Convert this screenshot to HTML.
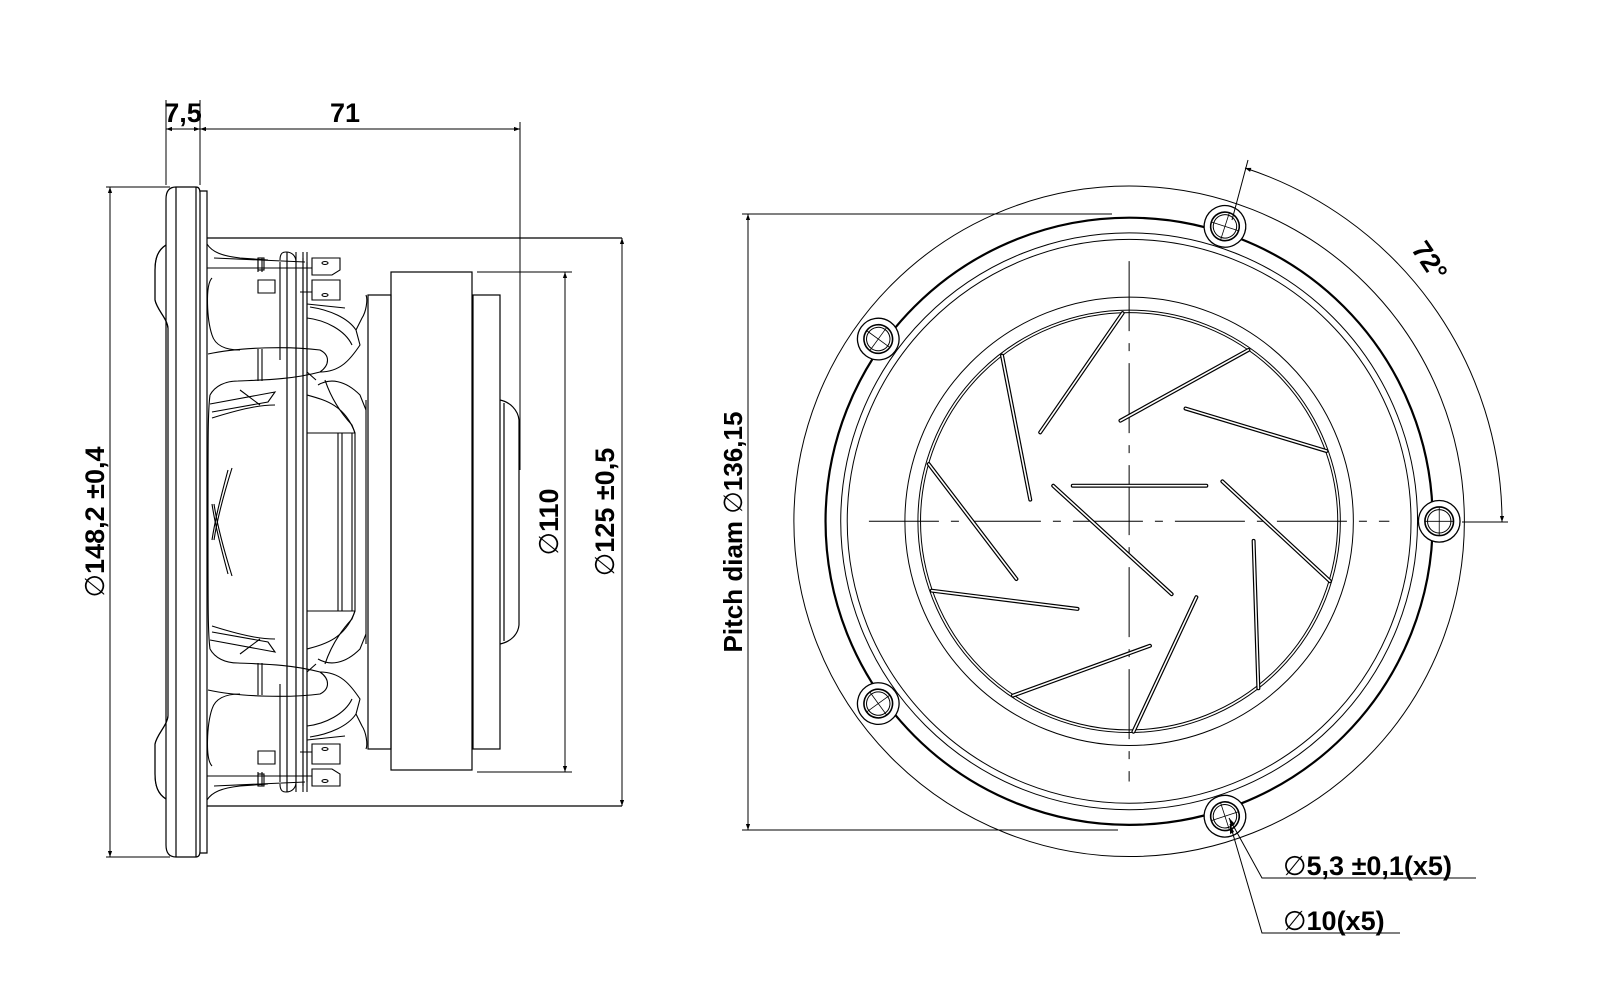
<!DOCTYPE html>
<html><head><meta charset="utf-8"><style>
html,body{margin:0;padding:0;background:#fff;}
svg{display:block;}
text{font-family:"Liberation Sans","DejaVu Sans",sans-serif;font-weight:bold;fill:#000;}
tspan.d{font-family:"DejaVu Sans",sans-serif;font-weight:normal;}
</style></head><body>
<svg width="1600" height="1000" viewBox="0 0 1600 1000" xmlns="http://www.w3.org/2000/svg">
<defs>
<marker id="ar" viewBox="0 0 10 10" refX="10" refY="5" markerWidth="10" markerHeight="6" orient="auto-start-reverse" markerUnits="userSpaceOnUse">
<path d="M0,1.5 L10,5 L0,8.5 z" fill="#000"/></marker>
<g id="half" fill="none" stroke="#000" stroke-width="1.1">
 <path d="M166,245 C158,250 155,258 155,270 L155,300 C157,310 167,318 168,328"/>
 <path d="M207,244 C212,252 222,256 240,258 L268,260 M207,268 L312,268 M214,258 L305,262"/>
 <path d="M258,258 L258,272 M262,258 L262,272"/>
 <rect x="258" y="258" width="6" height="12"/>
 <path d="M258,280 L275,280 L275,293 L258,293 z"/>
 <path d="M280,260 C280,252 284,252 286,252 C292,252 296,256 296,262 L296,792"/>
 <path d="M287,252 L287,792 M303,258 L303,792 M307,262 L307,792 M280,262 L280,360"/>
 <path d="M312,258 L340,258 L340,270 L332,275 L312,275 z M312,280 L340,280 L340,300 L312,300 z"/>
 <ellipse cx="325" cy="263" rx="3" ry="1.5"/><ellipse cx="325" cy="295" rx="3" ry="1.5"/>
 <path d="M300,292 L312,292 M307,304 L345,308"/>
 <path d="M212,278 C205,285 207,320 212,335 C215,345 225,350 240,350"/>
 <path d="M208,354 C240,347 290,346 320,350 C330,355 330,365 320,372 C290,380 260,380 238,381 C225,381 215,386 210,395"/>
 <path d="M258,349 L258,381 M262,349 L262,381"/>
 <path d="M310,307 C330,310 348,318 356,330 L360,345 C350,360 340,372 320,372"/>
 <path d="M307,318 C325,320 345,330 352,345 M356,330 L362,318 C366,312 368,300 366,295"/>
 <path d="M318,385 C330,378 345,380 360,395 L366,410 M325,380 C330,395 338,410 352,425 L355,433"/>
 <path d="M307,395 C325,400 345,405 355,433 M307,433 L355,433"/>
 <path d="M338,433 L338,522 M342,433 L342,522 M352,433 L352,522 M355,433 L355,522 M366,400 L366,522"/>
 <path d="M212,418 C250,406 265,405 275,405" stroke-width="1"/>
 <path d="M210,404 L275,392 L268,402 L212,412"/>
 <path d="M228,470 C220,500 215,520 212,540"/>
 <path d="M232,468 C222,500 217,520 214,540"/>
 <path d="M240,390 L260,405 M307,372 L316,380"/>
 <path d="M210,395 C208,410 208,430 208,522"/>
</g>
</defs>

<g fill="none" stroke="#000" stroke-width="1.2">
 <path d="M176,187 L196,187 Q200,187 200,193 L200,851 Q200,857 196,857 L176,857 Q166,857 166,845 L166,199 Q166,187 176,187 z"/>
 <path d="M176,187 L176,857 M196,187 L196,857"/>
 <path d="M200,191 L207,191 L207,853 L200,853"/>
 <path d="M166,245 C158,250 155,258 155,270 L155,300 C157,310 167,318 168,328 L168,716 C167,726 157,734 155,744 L155,774 C155,786 158,794 166,799"/>
 <path d="M207,238 L622,238 M207,806 L622,806"/>
 <rect x="391" y="272" width="81" height="498"/>
 <rect x="368" y="295" width="23" height="454"/>
 <rect x="473" y="295" width="27" height="454"/>
 <path d="M500,400 C510,402 518,410 519,420 L519,625 C518,635 510,642 500,644"/>
 <path d="M504,403 L504,641"/>
</g>
<use href="#half"/>
<use href="#half" transform="translate(0,1044) scale(1,-1)"/>

<g fill="none" stroke="#000" stroke-width="1">
 <path d="M166,100 L166,185 M200,100 L200,185 M520,122 L520,470"/>
 <path d="M166,129 L200,129" marker-start="url(#ar)" marker-end="url(#ar)"/>
 <path d="M200,129 L520,129" marker-start="url(#ar)" marker-end="url(#ar)"/>
 <path d="M106,187 L170,187 M106,857 L170,857"/>
 <path d="M110,187 L110,857" marker-start="url(#ar)" marker-end="url(#ar)"/>
 <path d="M622,238 L622,806" marker-start="url(#ar)" marker-end="url(#ar)"/>
 <path d="M477,272 L572,272 M477,772 L572,772"/>
 <path d="M565,272 L565,772" marker-start="url(#ar)" marker-end="url(#ar)"/>
</g>
<text x="183" y="122" font-size="27" text-anchor="middle">7,5</text>
<text x="345" y="122" font-size="27" text-anchor="middle">71</text>
<text transform="translate(104,522) rotate(-90)" font-size="27" text-anchor="middle"><tspan class="d">∅</tspan>148,2 ±0,4</text>
<text transform="translate(614,512) rotate(-90)" font-size="27" text-anchor="middle"><tspan class="d">∅</tspan>125 ±0,5</text>
<text transform="translate(558,522) rotate(-90)" font-size="27" text-anchor="middle"><tspan class="d">∅</tspan>110</text>

<g transform="translate(780,170) scale(0.4337)" fill="none" stroke="#000">
 <circle cx="805" cy="810" r="773" stroke-width="1" vector-effect="non-scaling-stroke"/>
 <circle cx="805" cy="810" r="700" stroke-width="2.2" vector-effect="non-scaling-stroke"/>
 <circle cx="805" cy="810" r="665" stroke-width="1" vector-effect="non-scaling-stroke"/>
 <circle cx="805" cy="810" r="650" stroke-width="1" vector-effect="non-scaling-stroke"/>
 <circle cx="805" cy="810" r="517" stroke-width="1" vector-effect="non-scaling-stroke"/>
 <circle cx="805" cy="810" r="487" stroke-width="1" vector-effect="non-scaling-stroke"/>
 <circle cx="805" cy="810" r="481" stroke-width="1" vector-effect="non-scaling-stroke"/>
 <path d="M205,810 L1405,810" stroke-width="1" stroke-dasharray="70,12,8,12" vector-effect="non-scaling-stroke"/>
 <path d="M805,210 L805,1410" stroke-width="1" stroke-dasharray="70,12,8,12" vector-effect="non-scaling-stroke"/>
 <g stroke-linecap="round">
  <path stroke="#000" stroke-width="4" d="M790,330 L600,605 M1080,415 L785,578 M935,550 L1260,648 M512,428 L577,760 M675,728 L983,728 M1020,718 L1268,948 M630,728 L903,978 M343,678 L545,943 M1092,855 L1103,1195 M350,970 L686,1012 M853,1097 L537,1212 M960,985 L815,1295" vector-effect="non-scaling-stroke"/>
  <path stroke="#fff" stroke-width="1.6" d="M790,330 L600,605 M1080,415 L785,578 M935,550 L1260,648 M512,428 L577,760 M675,728 L983,728 M1020,718 L1268,948 M630,728 L903,978 M343,678 L545,943 M1092,855 L1103,1195 M350,970 L686,1012 M853,1097 L537,1212 M960,985 L815,1295" vector-effect="non-scaling-stroke"/>
 </g>
 <g id="hole">
  <circle cx="1520" cy="810" r="48" fill="#fff" stroke-width="1.3" vector-effect="non-scaling-stroke"/>
  <circle cx="1520" cy="810" r="33" stroke-width="1.6" vector-effect="non-scaling-stroke"/>
  <circle cx="1520" cy="810" r="27" stroke-width="1" vector-effect="non-scaling-stroke"/>
  <path d="M1520,778 L1520,842 M1488,810 L1552,810" stroke-width="0.8" vector-effect="non-scaling-stroke"/>
 </g>
 <use href="#hole" transform="rotate(-72 805 810)"/>
 <use href="#hole" transform="rotate(72 805 810)"/>
 <use href="#hole" transform="rotate(144 805 810)"/>
 <use href="#hole" transform="rotate(216 805 810)"/>
</g>

<g fill="none" stroke="#000" stroke-width="1">
 <path d="M742,214 L1112,214 M742,830 L1118,830"/>
 <path d="M748,214 L748,830" marker-start="url(#ar)" marker-end="url(#ar)"/>
 <path d="M1232,220 L1248,160 M1462,522 L1508,522"/>
 <path d="M1245,168 A372,372 0 0 1 1502,522" marker-start="url(#ar)" marker-end="url(#ar)"/>
 <path d="M1229,818 L1262,878 L1476,878"/>
 <path d="M1230,824 L1262,933 L1400,933"/>
</g>
<path d="M1229,818 l2,9 l4,-3 z M1230,824 l0,10 l4,-2 z" fill="#000"/>
<text transform="translate(742,532) rotate(-90)" font-size="26" text-anchor="middle">Pitch diam <tspan class="d">∅</tspan>136,15</text>
<text transform="translate(1422,266) rotate(56)" font-size="27" text-anchor="middle">72°</text>
<text x="1283" y="875" font-size="27"><tspan class="d">∅</tspan>5,3 ±0,1(x5)</text>
<text x="1283" y="930" font-size="27"><tspan class="d">∅</tspan>10(x5)</text>
</svg>
</body></html>
